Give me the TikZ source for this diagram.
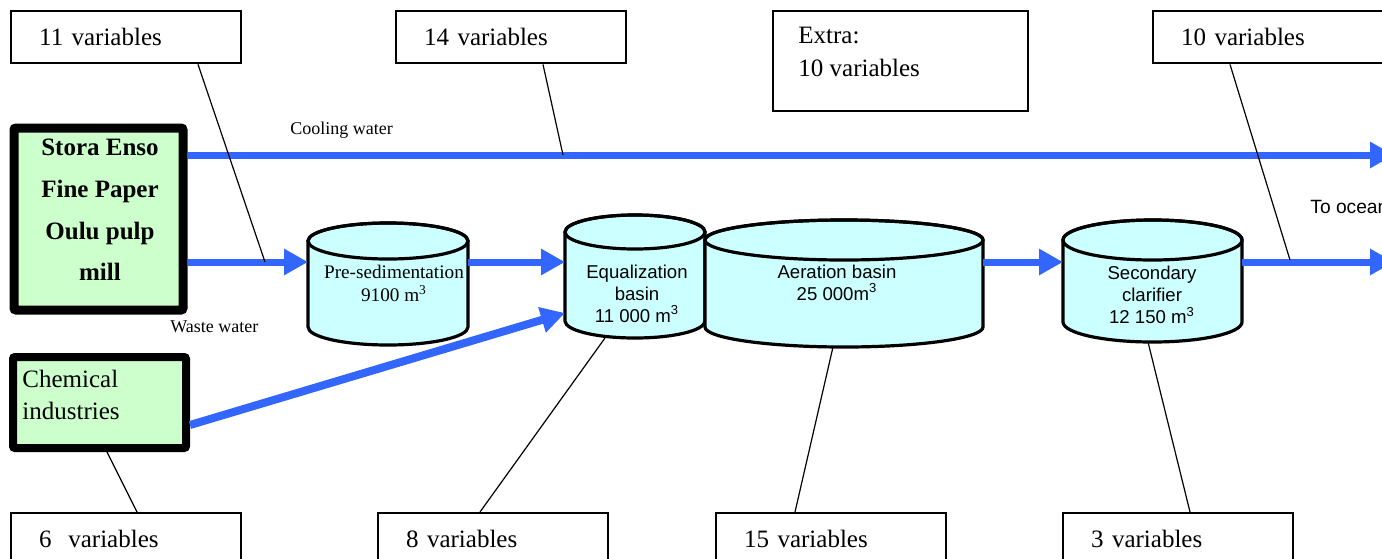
\documentclass[tikz,border=0pt]{standalone}
\usepackage{fontspec}
\setmainfont{Liberation Serif}
\setsansfont{Liberation Sans}
\usetikzlibrary{arrows.meta}
\definecolor{flowblue}{RGB}{51,102,255}
\definecolor{boxgreen}{RGB}{204,255,204}
\definecolor{tankcyan}{RGB}{204,255,255}
% #1 left x, #2 right x, #3 top-ellipse centre y, #4 bottom-ellipse centre y, #5 x radius, #6 y radius
\newcommand\drawtank[6]{%
  \filldraw[tank] (#1,#3) -- (#1,#4) arc[start angle=180,end angle=360,x radius=#5,y radius=#6]
    -- (#2,#3) arc[start angle=0,end angle=180,x radius=#5,y radius=#6] -- cycle;
  \draw[tank,fill=none] ({(#1+#2)/2},#3) ellipse[x radius=#5,y radius=#6];}
\begin{document}
\begin{tikzpicture}[x=0.5pt,y=-0.5pt,
  varbox/.style={draw, line width=1.2pt, anchor=north west, minimum height=26pt,
    inner xsep=14pt, text width=87pt, align=left, font=\fontsize{12.5}{16.5}\selectfont},
  srcbox/.style={draw, fill=boxgreen, inner sep=0pt, rounded corners=1pt},
  tank/.style={draw=black, fill=tankcyan, line width=1.6pt},
  cover/.style={draw=none, inner sep=0pt, outer sep=0pt},
  serftxt/.style={align=center, inner sep=0pt, font=\fontsize{9.6}{11.5}\selectfont},
  sanstxt/.style={align=center, inner sep=0pt, font=\sffamily\fontsize{9.3}{11}\selectfont},
  flow/.style={draw=flowblue, line width=3.5pt, -{Triangle[length=12pt,width=12.5pt]}},
  lead/.style={draw=black, line width=0.6pt},
  small/.style={anchor=west, inner sep=0pt, font=\fontsize{9}{10}\selectfont}]
\useasboundingbox (0,0) rectangle (1382,558);

% source boxes
\node[srcbox, line width=4.5pt, minimum width=84.5pt, minimum height=91pt] (stora) at (98.5,219) {};
\node[align=center, inner sep=0pt, font=\bfseries\fontsize{12.5}{20.8}\selectfont] (storatxt) at (100,210)
  {Stora Enso\\Fine Paper\\Oulu pulp\\mill};
\node[srcbox, line width=4pt, minimum width=86.5pt, minimum height=45.5pt] (chem) at (99.5,402.5) {};
\node[anchor=north west, align=left, inner sep=0pt, font=\fontsize{12.5}{16}\selectfont] (chemtxt) at (22,370)
  {Chemical\\industries};

% tanks
\drawtank{308}{468}{241}{327}{40pt}{9pt}
\node[cover, minimum width=80pt, minimum height=61.5pt] (pre) at (388,283.5) {};
\node[serftxt] (pretxt) at (394,283.5) {Pre-sedimentation\\9100 m\textsuperscript{3}};

\drawtank{565}{705}{232}{321}{35pt}{8.5pt}
\node[cover, minimum width=70pt, minimum height=61.5pt] (eq) at (635,276.5) {};
\node[sanstxt] (eqtxt) at (637,293.5) {Equalization\\basin\\11 000 m\textsuperscript{3}};

\drawtank{705}{983}{240}{327}{69.5pt}{10pt}
\node[cover, minimum width=139pt, minimum height=63.5pt] (aer) at (844,283.5) {};
\node[sanstxt] (aertxt) at (837,282.5) {Aeration basin\\25 000m\textsuperscript{3}};

\drawtank{1063}{1242}{240}{322}{44.75pt}{10pt}
\node[cover, minimum width=89.5pt, minimum height=61pt] (sec) at (1152.5,281) {};
\node[sanstxt] (sectxt) at (1152,295) {Secondary\\clarifier\\12 150 m\textsuperscript{3}};

% variable boxes
\node[varbox] (v11) at (10,10) {11 variables};
\node[varbox] (v14) at (395,10) {14 variables};
\node[varbox, text width=99.5pt, minimum height=50pt] (extra) at (772,10) {};
\node[anchor=north west, align=left, inner sep=0pt, font=\fontsize{12.5}{16.5}\selectfont] (extratxt) at (798,27)
  {Extra:\\10 variables};
\node[varbox] (v10) at (1152,10) {10 variables};
\node[varbox] (v6) at (10,512) {6\ \ variables};
\node[varbox] (v8) at (377,512) {8 variables};
\node[varbox] (v15) at (715,512) {15 variables};
\node[varbox] (v3) at (1062,512) {3 variables};

% flow levels
\coordinate (cool) at (0,155);
\coordinate (pipe) at (0,262);
\coordinate (chemout) at (0,425);
\coordinate (chemin) at (0,313);
\coordinate (ocean1) at (1394,155);
\coordinate (ocean2) at (1394,262);

\draw[flow] (stora.east |- cool) -- (ocean1);
\draw[flow] (stora.east |- pipe) -- (pre.west |- pipe);
\draw[flow] (pre.east |- pipe) -- (eq.west |- pipe);
\draw[flow] (aer.east |- pipe) -- (sec.west |- pipe);
\draw[flow] (sec.east |- pipe) -- (ocean2);
\draw[flow, line width=4pt] (chem.east |- chemout) -- (eq.west |- chemin);

% labels
\node[small] (coolt) at (290,130) {Cooling water};
\node[small] (wastet) at (170,327) {Waste water};
\node[small, font=\sffamily\fontsize{9.6}{10}\selectfont] (oceant) at (1310,207) {To ocean};

% leader lines
\coordinate (l11) at (265,262);
\coordinate (l14) at (563,155);
\coordinate (l10) at (1290,260);
\coordinate (l8) at (605,338);
\coordinate (l15) at (833,347);
\coordinate (l3) at (1148,342);
\draw[lead] (v11.south -| 198,0) -- (l11);
\draw[lead] (v14.south -| 543,0) -- (l14);
\draw[lead] (v10.south -| 1230,0) -- (l10);
\draw[lead] (chem.south -| 107,0) -- (v6.north -| 137,0);
\draw[lead] (l8) -- (v8.north -| 480,0);
\draw[lead] (l15) -- (v15.north -| 795,0);
\draw[lead] (l3) -- (v3.north -| 1190,0);
\end{tikzpicture}
\end{document}
